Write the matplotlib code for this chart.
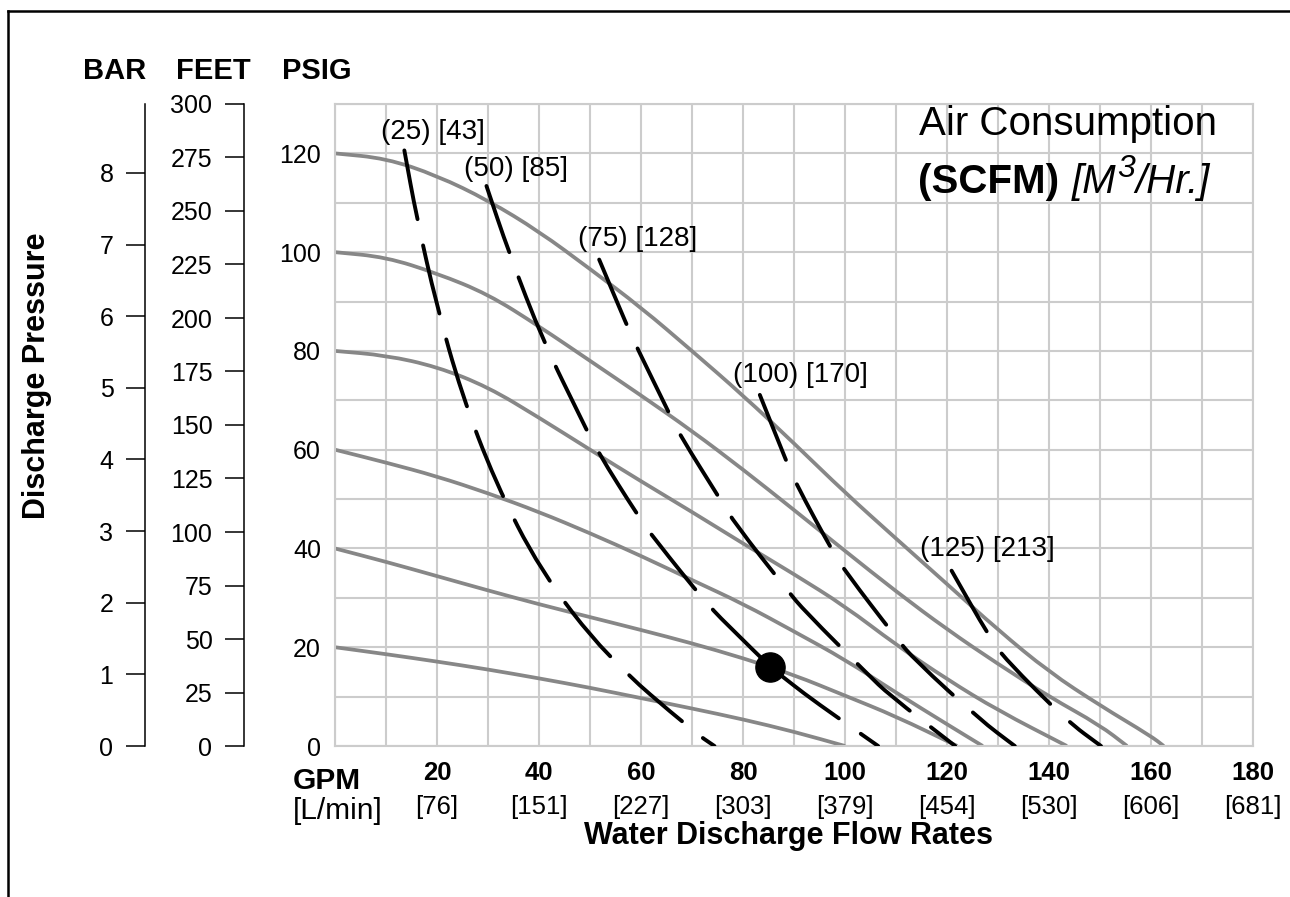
import matplotlib
matplotlib.use("Agg")
import matplotlib.pyplot as plt
import matplotlib.transforms as mtransforms
from matplotlib.lines import Line2D
from matplotlib.path import Path
from matplotlib.patches import PathPatch
import numpy as np

plt.rcParams['font.family'] = ['Liberation Sans', 'DejaVu Sans']

# performance curves, one per air inlet pressure (psig): flow GPM -> discharge psig
psi20_x = [0, 10, 20, 30, 40, 50, 60, 70, 80, 90, 100]
psi20_y = [20, 18.6, 17.1, 15.5, 13.7, 11.8, 9.7, 7.6, 5.4, 2.9, 0]
psi40_x = [0, 10, 20, 30, 40, 50, 60, 70, 80, 90, 100, 110, 122]
psi40_y = [40, 37.3, 34.4, 31.5, 28.7, 26.1, 23.5, 20.8, 17.8, 14.4, 10.2, 6.0, 0]
psi60_x = [0, 10, 20, 30, 40, 50, 60, 70, 80, 90, 100, 110, 120, 127]
psi60_y = [60, 57.4, 54.6, 51.2, 47.4, 43.1, 38.5, 33.6, 28.8, 23.2, 17.5, 10.8, 4.4, 0]
psi80_x = [0, 10, 20, 30, 40, 50, 60, 70, 80, 90, 100, 110, 120, 130, 143.5]
psi80_y = [80, 79.1, 76.8, 72.7, 66.5, 60, 53.6, 47.4, 41, 34.8, 28.3, 20.5, 13.5, 7.2, 0]
psi100_x = [0, 10, 20, 30, 40, 50, 60, 70, 80, 90, 100, 110, 120, 130, 140, 150, 155.3]
psi100_y = [100, 99, 95.7, 91.5, 85, 78, 71, 63.8, 56, 47.8, 39.5, 31.3, 23.6, 16.6, 10, 4.2, 0]
psi120_x = [0, 10, 20, 30, 40, 50, 60, 70, 80, 90, 100, 110, 120, 130, 140, 150, 160, 162.5]
psi120_y = [120, 119, 115.5, 110.5, 104.2, 96.6, 88.8, 80, 71, 61.3, 51.3, 42, 32.8, 23.5, 15, 8.2, 2, 0]

# air consumption lines (SCFM)
scfm25_x = [13.6, 16.0, 19.9, 24.8, 31.4, 40.2, 53.3, 70.3, 74.4]
scfm25_y = [120.6, 107.1, 89.3, 71.4, 53.5, 35.6, 18.0, 2.9, 0]
scfm50_x = [29.7, 34.1, 40.8, 48.4, 51.3, 59.6, 62.6, 73.1, 78.4, 85.3, 89.9, 94.1, 106.5]
scfm50_y = [113.4, 99.9, 82.0, 66.0, 59.9, 46.3, 42.0, 28.5, 23.1, 16.05, 12.3, 9.0, 0]
scfm75_x = [51.8, 57.3, 59.2, 65.7, 67.6, 75.8, 78.4, 88.6, 92.2, 104.6, 108.5, 121.6]
scfm75_y = [98.5, 85.0, 80.7, 67.0, 63.0, 49.5, 45.1, 31.6, 27.2, 14.4, 10.5, 0]
scfm100_x = [83.3, 88.6, 90.3, 97.5, 100.1, 110.1, 113.7, 126.5, 133.3]
scfm100_y = [71.1, 57.4, 53.3, 39.5, 35.3, 21.8, 17.4, 5.3, 0]
scfm125_x = [120.9, 128.4, 131.5, 143.5, 150.2]
scfm125_y = [35.5, 21.9, 17.5, 5.1, 0]

scfm_labels = ["(25) [43]", "(50) [85]", "(75) [128]", "(100) [170]", "(125) [213]"]
scfm_label_x = [19.2, 35.4, 59.4, 91.2, 127.9]
scfm_label_y = [124.3, 116.9, 102.6, 75.1, 39.8]

# operating point
point_x = 85.3
point_y = 16.05

gpm_ticks = [20, 40, 60, 80, 100, 120, 140, 160, 180]
lpm_labels = ["[76]", "[151]", "[227]", "[303]", "[379]", "[454]", "[530]", "[606]", "[681]"]
psi_ticks = [0, 20, 40, 60, 80, 100, 120]
bar_ticks = [0, 1, 2, 3, 4, 5, 6, 7, 8]
feet_ticks = [0, 25, 50, 75, 100, 125, 150, 175, 200, 225, 250, 275, 300]

W, H = 1290, 897
fig = plt.figure(figsize=(W / 100, H / 100), dpi=100)

left, right = 335 / W, 1253 / W
bottom, top = (H - 746) / H, (H - 104) / H
ax = fig.add_axes([left, bottom, right - left, top - bottom])

grid_col = '#cccccc'
ax.set_xlim(0, 180)
ax.set_ylim(0, 130)
ax.set_xticks(np.arange(0, 181, 10))
ax.set_xticklabels([])
ax.set_yticks(np.arange(0, 131, 10), minor=True)
ax.set_yticks(psi_ticks)
ax.tick_params(axis='both', which='both', length=0)
ax.tick_params(axis='y', labelsize=18, pad=10)
ax.grid(True, which='both', color=grid_col, lw=1.5, zorder=0)
for s in ax.spines.values():
    s.set_color(grid_col)
    s.set_linewidth(1.5)
ax.set_axisbelow(True)


def smooth_path(xs, ys):
    # quadratic bezier through the midpoints, the read points act as controls
    pts = list(zip(xs, ys))
    verts = [pts[0]]
    codes = [Path.MOVETO]
    if len(pts) > 2:
        m = ((pts[0][0] + pts[1][0]) / 2, (pts[0][1] + pts[1][1]) / 2)
        verts.append(m)
        codes.append(Path.LINETO)
        for i in range(1, len(pts) - 1):
            m = ((pts[i][0] + pts[i + 1][0]) / 2, (pts[i][1] + pts[i + 1][1]) / 2)
            verts += [pts[i], m]
            codes += [Path.CURVE3, Path.CURVE3]
    verts.append(pts[-1])
    codes.append(Path.LINETO)
    return Path(verts, codes)


curve_col = '#878787'
for cx, cy in [(psi20_x, psi20_y), (psi40_x, psi40_y), (psi60_x, psi60_y),
               (psi80_x, psi80_y), (psi100_x, psi100_y), (psi120_x, psi120_y)]:
    ax.add_patch(PathPatch(smooth_path(cx, cy), fill=False, edgecolor=curve_col,
                           lw=2.7, capstyle='butt', zorder=2))

for cx, cy in [(scfm25_x, scfm25_y), (scfm50_x, scfm50_y), (scfm75_x, scfm75_y),
               (scfm100_x, scfm100_y), (scfm125_x, scfm125_y)]:
    ax.add_patch(PathPatch(smooth_path(cx, cy), fill=False, edgecolor='black',
                           lw=2.8, ls=(0, (18.0, 6.9)), capstyle='round', zorder=3))

for lab, lx, ly in zip(scfm_labels, scfm_label_x, scfm_label_y):
    ax.text(lx, ly, lab, fontsize=20, ha='center', va='center', zorder=5)

ax.plot(point_x, point_y, 'o', ms=21, color='black', zorder=4)

# flow labels under the plot
trans = mtransforms.blended_transform_factory(ax.transData, fig.transFigure)
for g, l in zip(gpm_ticks, lpm_labels):
    ax.text(g, 1 - 773 / H, str(g), transform=trans, fontsize=18.5,
            fontweight='bold', ha='center', va='center')
    ax.text(g, 1 - 807 / H, l, transform=trans, fontsize=18.5,
            ha='center', va='center')

fig.text(293 / W, 1 - 781 / H, "GPM", fontsize=21.5, fontweight='bold',
         ha='left', va='center')
fig.text(293 / W, 1 - 811 / H, "[L/min]", fontsize=21.5, ha='left', va='center')
fig.text(788 / W, 1 - 836 / H, "Water Discharge Flow Rates", fontsize=22,
         fontweight='bold', ha='center', va='center')


# secondary pressure scales
def side_axis(xpix, ymax, ticks):
    a = fig.add_axes([xpix / W, bottom, 0.0001, top - bottom])
    a.set_ylim(0, ymax)
    a.set_yticks(ticks)
    a.set_xticks([])
    for k in ['top', 'right', 'bottom']:
        a.spines[k].set_visible(False)
    a.spines['left'].set_linewidth(1.1)
    a.tick_params(axis='y', direction='out', length=13.7, width=1.1,
                  labelsize=18, pad=9)
    a.patch.set_visible(False)
    return a


side_axis(145, 130 / 14.5038, bar_ticks)
side_axis(244, 300, feet_ticks)

fig.text(114.5 / W, 1 - 71 / H, "BAR", fontsize=21, fontweight='bold', ha='center', va='center')
fig.text(213 / W, 1 - 71 / H, "FEET", fontsize=21, fontweight='bold', ha='center', va='center')
fig.text(317 / W, 1 - 71 / H, "PSIG", fontsize=21, fontweight='bold', ha='center', va='center')
fig.text(37 / W, 1 - 376 / H, "Discharge Pressure", fontsize=22, fontweight='bold',
         rotation=90, ha='center', va='center')

# air consumption legend text, built from pieces so the units can be italic
fig.text(1068 / W, 1 - 135 / H, "Air Consumption", fontsize=29, ha='center', va='baseline')
renderer = fig.canvas.get_renderer()
base_y = 1 - 193 / H
t1 = fig.text(918 / W, base_y, "(SCFM)", fontsize=29, fontweight='bold', va='baseline')
x_px = t1.get_window_extent(renderer).x1 + 13
t2 = fig.text(x_px / W, base_y, "[M", fontsize=29, style='italic', va='baseline')
x_px = t2.get_window_extent(renderer).x1 + 1
t3 = fig.text(x_px / W, base_y + 16 / H, "3", fontsize=23, style='italic', va='baseline')
x_px = t3.get_window_extent(renderer).x1
fig.text(x_px / W, base_y, "/Hr.]", fontsize=29, style='italic', va='baseline')

# frame (left and top edges only)
fig.add_artist(Line2D([8 / W, 8 / W], [0, 1 - 11 / H], transform=fig.transFigure,
                      color='black', lw=1.8))
fig.add_artist(Line2D([8 / W, 1], [1 - 11 / H, 1 - 11 / H], transform=fig.transFigure,
                      color='black', lw=1.8))

fig.savefig("out.png", dpi=100)
